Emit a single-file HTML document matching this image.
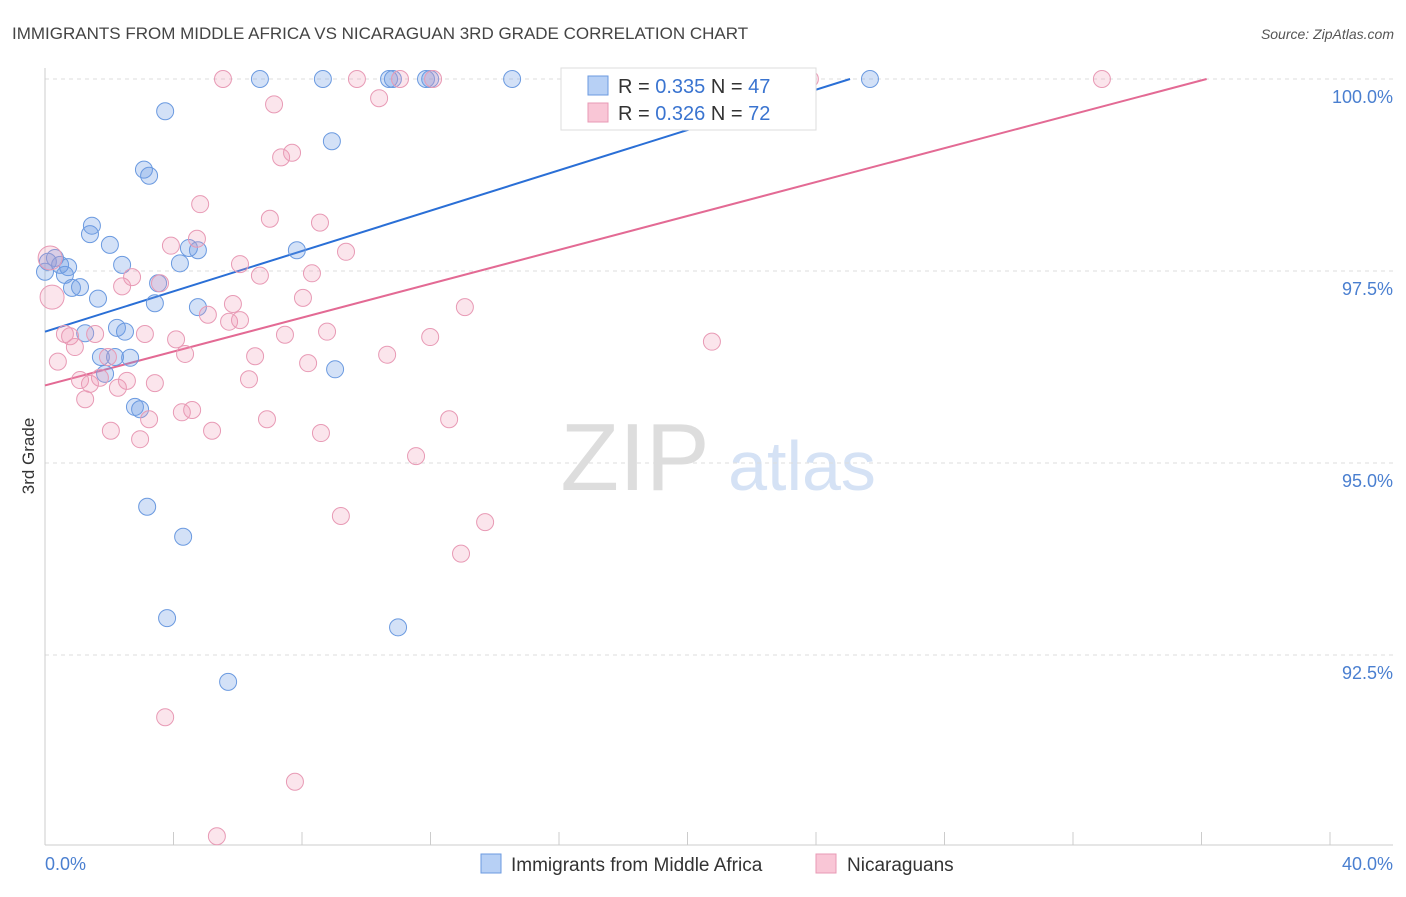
<!DOCTYPE html>
<html><head><meta charset="utf-8"><style>
body{margin:0;background:#fff;font-family:"Liberation Sans",sans-serif;}
svg text{font-family:"Liberation Sans",sans-serif;}
</style></head><body>
<svg id="chart" width="1406" height="892">
<text x="12" y="39" font-size="17" fill="#444">IMMIGRANTS FROM MIDDLE AFRICA VS NICARAGUAN 3RD GRADE CORRELATION CHART</text>
<text x="1394" y="39" font-size="14" fill="#555" font-style="italic" text-anchor="end">Source: ZipAtlas.com</text>
<text x="34" y="456" font-size="17" fill="#333" transform="rotate(-90 34 456)" text-anchor="middle">3rd Grade</text>
<g><text x="635" y="490" font-size="96" fill="#ddd" font-family="Liberation Serif" text-anchor="middle">ZIP</text><text x="802" y="490" font-size="70" fill="#d5e2f5" text-anchor="middle">atlas</text></g>
<g id="grid"></g><g id="axes"></g><g id="trend"></g><g id="pts"></g>
<g>
<rect x="561" y="68" width="255" height="62" fill="#fff" stroke="#ddd"/>
<rect x="588" y="76" width="20" height="19" fill="#b7d0f5" stroke="#6b9ae0"/>
<text x="618" y="93" font-size="20" fill="#333">R = <tspan fill="#3a74d0">0.335</tspan>   N = <tspan fill="#3a74d0">47</tspan></text>
<rect x="588" y="103" width="20" height="19" fill="#f9c6d6" stroke="#e89ab5"/>
<text x="618" y="120" font-size="20" fill="#333">R = <tspan fill="#3a74d0">0.326</tspan>   N = <tspan fill="#3a74d0">72</tspan></text>
</g>
<g>
<rect x="481" y="854" width="20" height="19" fill="#b7d0f5" stroke="#6b9ae0"/>
<text x="511" y="871" font-size="19" fill="#333">Immigrants from Middle Africa</text>
<rect x="816" y="854" width="20" height="19" fill="#f9c6d6" stroke="#e89ab5"/>
<text x="847" y="871" font-size="19" fill="#333">Nicaraguans</text>
</g>
</svg>
<script>
const blueX=[0,0.09,0.31,0.47,0.62,0.72,0.84,1.09,1.65,1.25,1.40,1.46,2.02,2.40,1.74,1.87,2.18,2.24,2.49,2.65,2.80,2.96,3.42,3.52,3.74,3.08,3.24,4.20,4.48,4.76,4.76,3.18,4.30,3.80,5.70,6.69,7.84,8.65,8.93,9.03,10.71,10.83,10.99,11.99,11.86,14.54,25.68];
const blueY=[97.49,97.62,97.67,97.58,97.45,97.55,97.28,97.29,97.14,96.69,97.98,98.09,97.84,97.58,96.38,96.16,96.38,96.76,96.71,96.37,95.73,95.70,97.08,97.34,99.58,98.82,98.74,97.60,97.80,97.77,97.03,94.43,94.04,92.98,92.15,100,97.77,100,99.19,96.22,100,100,92.86,100,100,100,100];
const pinkX=[0.16,0.22,0.40,0.62,0.78,0.93,1.09,1.25,1.40,1.56,1.71,1.96,2.05,2.27,2.40,2.55,2.71,2.96,3.11,3.24,3.42,3.58,3.92,4.08,4.26,4.36,4.58,4.73,4.83,5.07,5.20,5.35,5.54,5.73,5.85,6.07,6.07,6.35,6.54,6.69,6.91,7.00,7.13,7.35,7.69,7.47,8.03,8.19,8.31,8.56,8.59,8.78,9.21,9.37,9.71,10.40,10.65,11.05,11.55,11.99,12.08,12.58,12.95,13.07,13.70,3.74,7.78,16.90,20.76,21.01,23.81,32.90];
const pinkY=[97.67,97.16,96.32,96.68,96.65,96.51,96.08,95.83,96.03,96.68,96.11,96.38,95.42,95.98,97.30,96.07,97.42,95.31,96.68,95.57,96.04,97.34,97.83,96.61,95.66,96.42,95.69,97.92,98.37,96.93,95.42,90.14,100,96.84,97.07,96.86,97.59,96.09,96.39,97.44,95.57,98.18,99.67,98.98,99.04,96.67,97.15,96.30,97.47,98.13,95.39,96.71,94.31,97.75,100,99.75,96.41,100,95.09,96.64,100,95.57,93.82,97.03,94.23,91.69,90.85,100,96.58,100,100,100];
const blueTrend=[[0,96.71],[25.06,100]];
const pinkTrend=[[0,96.01],[36.16,100]];
const yTicks=[100,97.5,95,92.5];
const yTickLabels=["100.0%","97.5%","95.0%","92.5%"];
const xTicks=[0,4,8,12,16,20,24,28,32,36,40];
const xs=v=>45+v/40*1285, ys=v=>79+(100-v)/2.5*192;
const NS="http://www.w3.org/2000/svg";
function mk(p,t,a){const e=document.createElementNS(NS,t);for(const k in a)e.setAttribute(k,a[k]);document.getElementById(p).appendChild(e);return e;}
yTicks.forEach((t,i)=>{
 const l=mk('grid','line',{x1:45,x2:1393,y1:ys(t),y2:ys(t),stroke:'#ddd','stroke-dasharray':'4 4'});
 
 
 const tx=mk('grid','text',{x:1393,y:ys(t)+24,'font-size':18,fill:'#4a7fd0','text-anchor':'end'});
 tx.textContent=yTickLabels[i];
 
 
});
mk('axes','line',{x1:45,x2:45,y1:68,y2:845,stroke:'#ccc'});
mk('axes','line',{x1:45,x2:1393,y1:845,y2:845,stroke:'#ccc'});
xTicks.forEach(t=>{const l=mk('axes','line',{x1:xs(t),x2:xs(t),y1:832,y2:845,stroke:'#ccc'});
 
 });
const x0=mk('axes','text',{x:45,y:870,'font-size':18,fill:'#4a7fd0'});x0.textContent="0.0%";


const x1=mk('axes','text',{x:1393,y:870,'font-size':18,fill:'#4a7fd0','text-anchor':'end'});x1.textContent="40.0%";


blueX.forEach((x,i)=>{const c=mk('pts','circle',{cx:xs(x),cy:ys(blueY[i]),r:8.5,fill:'rgba(110,155,230,0.3)',stroke:'#6b9ae0','stroke-width':1});
 
 });
pinkX.forEach((x,i)=>{const c=mk('pts','circle',{cx:xs(x),cy:ys(pinkY[i]),r:i<2?12:8.5,fill:'rgba(240,150,180,0.25)',stroke:'#e89ab5','stroke-width':1});
 
 });
const bt=mk('trend','line',{x1:xs(blueTrend[0][0]),y1:ys(blueTrend[0][1]),x2:xs(blueTrend[1][0]),y2:ys(blueTrend[1][1]),stroke:'#2a6fd6','stroke-width':2});


const pt=mk('trend','line',{x1:xs(pinkTrend[0][0]),y1:ys(pinkTrend[0][1]),x2:xs(pinkTrend[1][0]),y2:ys(pinkTrend[1][1]),stroke:'#e36a94','stroke-width':2});


</script>
</body></html>
